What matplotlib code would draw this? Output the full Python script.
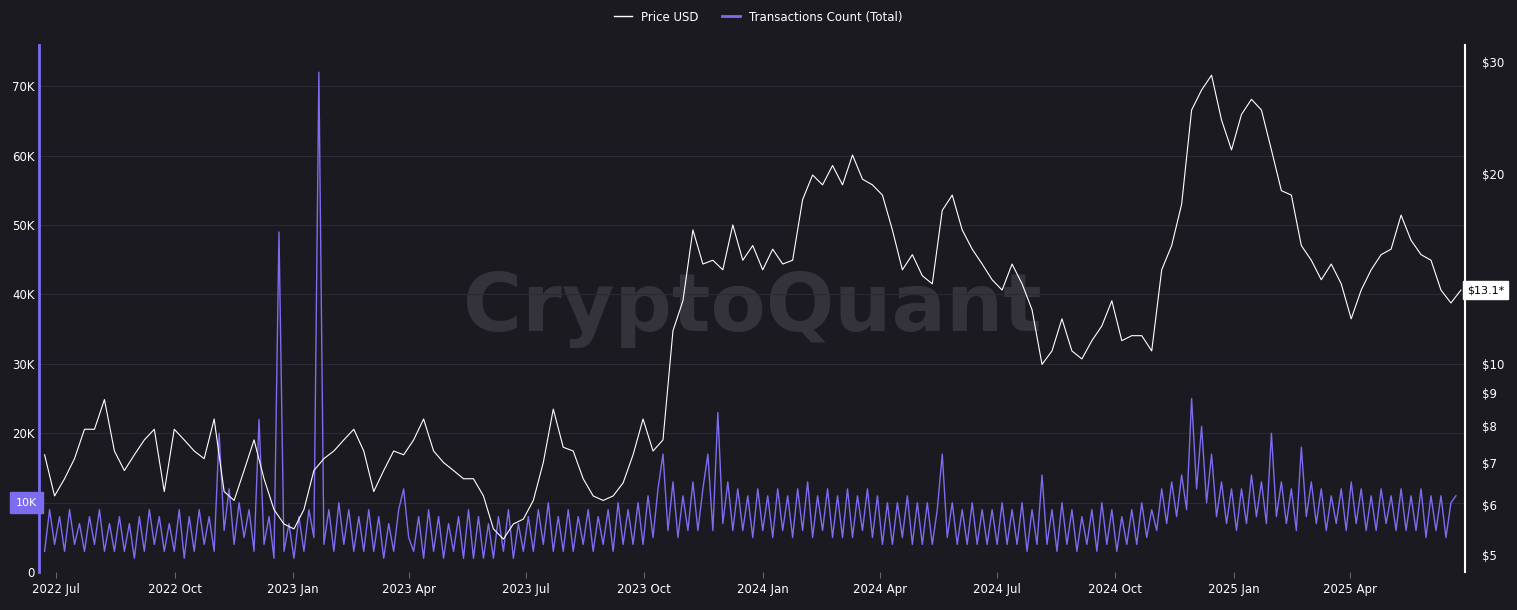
import matplotlib
matplotlib.use("Agg")
import matplotlib.pyplot as plt
import matplotlib.dates as mdates
import matplotlib.ticker as mt
import numpy as np
import pandas as pd

price_start = "2022-06-22"
price_usd = [7.2,6.2,6.6,7.1,7.9,7.9,8.8,7.3,6.8,7.2,7.6,7.9,6.3,7.9,7.6,7.3,7.1,8.2,6.3,6.1,
 6.8,7.6,6.6,5.9,5.6,5.5,5.9,6.8,7.1,7.3,7.6,7.9,7.3,6.3,6.8,7.3,7.2,7.6,8.2,7.3,
 7.0,6.8,6.6,6.6,6.2,5.5,5.3,5.6,5.7,6.1,7.0,8.5,7.4,7.3,6.6,6.2,6.1,6.2,6.5,7.2,
 8.2,7.3,7.6,11.3,12.6,16.3,14.4,14.6,14.1,16.6,14.6,15.4,14.1,15.2,14.4,14.6,18.2,19.9,19.2,20.6,
 19.2,21.4,19.6,19.2,18.5,16.3,14.1,14.9,13.8,13.4,17.5,18.5,16.3,15.2,14.4,13.6,13.1,14.4,13.4,12.2,
 10.0,10.5,11.8,10.5,10.2,10.9,11.5,12.6,10.9,11.1,11.1,10.5,14.1,15.4,17.9,25.2,27.1,28.6,24.3,21.8,
 24.8,26.2,25.2,21.8,18.8,18.5,15.4,14.6,13.6,14.4,13.4,11.8,13.1,14.1,14.9,15.2,17.2,15.7,14.9,14.6,
 13.1,12.5,13.1]
tx_start = "2022-06-22"
tx_k = [3,9,4,8,3,9,4,7,3,8, 4,9,3,7,3,8,3,7,2,8, 3,9,4,8,3,7,3,9,2,8, 3,9,4,8,3,20,6,12,4,10,
 5,9,3,22,4,8,2,49,3,7, 2,8,3,9,5,72,4,9,3,10, 4,9,3,8,3,9,3,8,2,7, 3,9,12,5,3,8,2,9,3,8,
 2,7,3,8,2,9,2,8,2,7, 2,8,3,9,2,7,3,8,3,9, 4,10,3,8,3,9,3,8,4,9, 3,8,4,9,3,10,4,9,4,10,
 4,11,5,12,17,6,13,5,11,6, 13,6,12,17,6,23,7,13,6,12, 6,11,5,12,6,11,5,12,6,11, 5,12,6,13,5,11,6,12,5,11,
 5,12,5,11,6,12,5,11,4,10, 4,10,5,11,4,10,4,10,4,9, 17,5,10,4,9,4,10,4,9,4, 9,4,10,4,9,4,10,3,9,4,
 14,4,9,3,10,4,9,3,8,4, 9,3,10,4,9,3,8,4,9,4, 10,5,9,6,12,7,13,8,14,9, 25,12,21,10,17,8,13,7,12,6,
 12,7,14,8,13,7,20,8,13,7, 12,6,18,8,13,7,12,6,11,7, 12,6,13,7,12,6,11,6,12,7, 11,6,12,6,11,6,12,5,11,6,
 11,5,10,11]
left_ticks = [0,10,20,30,40,50,60,70]
right_ticks = [5,6,7,8,9,10,20,30]
last_price = 13.1
last_price_label = "$13.1*"

bg = "#1b1a21"
purple = "#7b6cf0"
fig = plt.figure(figsize=(15.17,6.10), dpi=100, facecolor=bg)
ax = fig.add_axes([0.026,0.062,0.94,0.864], facecolor=bg)
px = pd.date_range(price_start, periods=len(price_usd), freq="186h")
tx = pd.date_range(tx_start, periods=len(tx_k), freq="93h")
ax.plot(tx, np.array(tx_k)*1000, color=purple, lw=1.0, zorder=2)
ax.set_ylim(0, 75900)
ax.set_xlim(pd.Timestamp("2022-06-18"), pd.Timestamp("2025-06-30"))
ax.set_yticks([t*1000 for t in left_ticks])
ax.set_yticklabels([("" if t == 10 else f"{t}K") if t else "0" for t in left_ticks])
ax.grid(axis="y", color="#2c2b35", lw=0.8)
ax.xaxis.set_major_locator(mdates.MonthLocator(bymonth=[1,4,7,10]))
ax.xaxis.set_major_formatter(mdates.DateFormatter("%Y %b"))
for s in ["top","bottom","right"]:
    ax.spines[s].set_visible(False)
ax.spines["left"].set_color(purple); ax.spines["left"].set_linewidth(2)
ax.tick_params(colors="white", labelsize=8.5, length=0)
ax.tick_params(axis="x", length=4, color="#666")
ax2 = ax.twinx()
ax2.plot(px, price_usd, color="white", lw=0.8, zorder=3)
ax2.set_yscale("log")
ax2.set_ylim(4.70, 31.9)
ax2.set_yticks(right_ticks)
ax2.yaxis.set_major_formatter(mt.FuncFormatter(lambda v,p: f"${v:g}"))
ax2.yaxis.set_minor_locator(mt.NullLocator())
for s in ["top","bottom","left"]:
    ax2.spines[s].set_visible(False)
ax2.spines["right"].set_color("white"); ax2.spines["right"].set_linewidth(1.5)
ax2.tick_params(colors="white", labelsize=8.5, length=0, pad=12)
ax.text(0.5,0.5,"CryptoQuant", transform=ax.transAxes, ha="center", va="center",
        fontsize=58, fontweight="semibold", color="#34333b", zorder=0)
ax.text(-0.009, 10000, "10K", transform=ax.get_yaxis_transform(), ha="center", va="center",
        fontsize=8, color="white", bbox=dict(boxstyle="square,pad=0.5", fc=purple, ec=purple))
ax2.text(1.014, last_price, last_price_label, transform=ax2.get_yaxis_transform(), ha="center",
         va="center", fontsize=8, color="black", bbox=dict(boxstyle="square,pad=0.35", fc="white", ec="white"))
from matplotlib.lines import Line2D
fig.legend([Line2D([],[],color="white",lw=1), Line2D([],[],color=purple,lw=2)],
           ["Price USD","Transactions Count (Total)"], loc="upper center", ncol=2,
           frameon=False, labelcolor="white", fontsize=8.5, bbox_to_anchor=(0.5,1.0), handlelength=1.5)
fig.savefig("out.png", facecolor=bg)
